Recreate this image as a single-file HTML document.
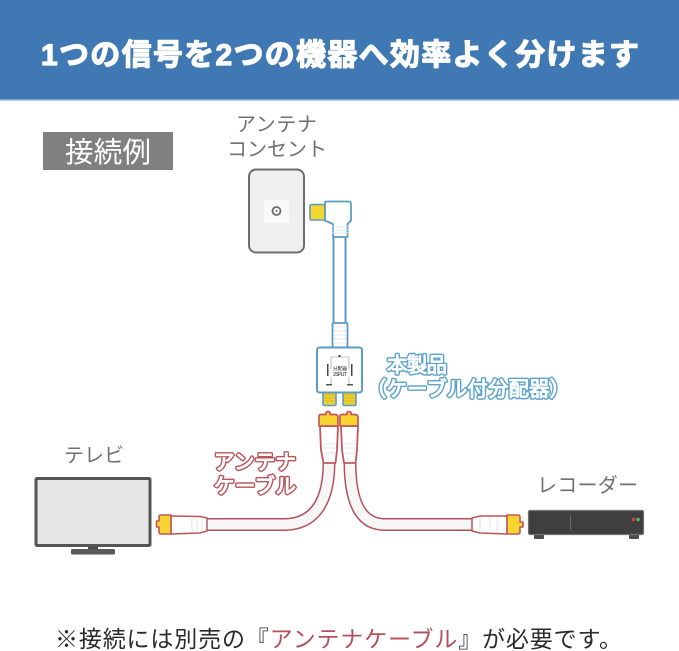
<!DOCTYPE html>
<html lang="ja">
<head>
<meta charset="utf-8">
<style>
html,body{margin:0;padding:0;background:#fff;width:679px;height:651px;overflow:hidden}
svg{display:block}
text{font-family:"Liberation Sans","Noto Sans CJK JP",sans-serif}
.lb{font-size:20px;fill:#707070}
.ol{font-size:20.5px;font-weight:400;stroke-linejoin:round}
.bo{fill:#5ba3cc;stroke:#5ba3cc;stroke-width:3.8px}
.ro{fill:#bb555c;stroke:#bb555c;stroke-width:3.8px}
.in{fill:#fff;stroke:#fff;stroke-width:1px}
</style>
</head>
<body>
<svg width="679" height="651" viewBox="0 0 679 651" xmlns="http://www.w3.org/2000/svg">
<rect width="679" height="651" fill="#fff"/>
<rect width="679" height="100" fill="#3f78b3"/>
<rect y="99" width="679" height="1.500" fill="#7ba3c9"/>
<text x="41" y="65" font-size="30" font-weight="700" fill="#fff" stroke="#fff" stroke-width="1.200" stroke-linejoin="round" textLength="598" lengthAdjust="spacing">1つの信号を2つの機器へ効率よく分けます</text>

<rect x="43" y="132" width="130" height="38" fill="#808080"/>
<text x="65" y="162" font-size="28.500" fill="#fff" textLength="86" lengthAdjust="spacing">接続例</text>

<text class="lb" x="236" y="131" textLength="81" lengthAdjust="spacing">アンテナ</text>
<text class="lb" x="227" y="156" textLength="100" lengthAdjust="spacing">コンセント</text>
<text class="lb" x="64" y="462" textLength="60" lengthAdjust="spacing">テレビ</text>
<text class="lb" x="537" y="492" textLength="101" lengthAdjust="spacing">レコーダー</text>

<!-- outlet -->
<rect x="249" y="169.500" width="55" height="83" rx="7" fill="#efefef" stroke="#6e6e6e" stroke-width="2"/>
<rect x="264" y="200" width="25" height="23" fill="#f9f9f9"/>
<circle cx="276.500" cy="211" r="4" fill="#f5f5f5" stroke="#6e6e6e" stroke-width="1.800"/>
<circle cx="276.500" cy="211" r="1" fill="#6e6e6e"/>

<!-- top cable -->
<rect x="333.500" y="236" width="12" height="90" fill="#fff" stroke="#5b9cc2" stroke-width="2"/>
<rect x="310" y="204.500" width="15" height="15.500" rx="1.500" fill="#f4d82f" stroke="#5b9cc2" stroke-width="1.600"/>
<path d="M325 202.500Q325 201.500 327 201.500H348.500Q351 201.500 351 204V220.500L347.500 224V237H333V224L326 221H325Z" fill="#fff" stroke="#5b9cc2" stroke-width="1.800" stroke-linejoin="round"/>
<path d="M332 227H348M332 230H348M332 233H348" stroke="#dfe7ec" stroke-width="1"/>

<!-- relief -->
<rect x="332.500" y="323" width="15" height="25" rx="1" fill="#fff" stroke="#5b9cc2" stroke-width="1.800"/>
<path d="M334 327H346M334 331H346M334 335H346M334 339H346M334 343H346" stroke="#e4e4e4" stroke-width="1"/>

<!-- splitter ports -->
<rect x="323" y="390" width="13" height="15.500" rx="1.500" fill="#f0d02c" stroke="#5b9cc2" stroke-width="1.600"/>
<rect x="343" y="390" width="13" height="15.500" rx="1.500" fill="#f0d02c" stroke="#5b9cc2" stroke-width="1.600"/>
<path d="M324 395H335M324 398H335M324 401H335M344 395H355M344 398H355M344 401H355" stroke="#d8b622" stroke-width="1"/>
<!-- splitter -->
<rect x="317" y="347.500" width="45" height="45" rx="2.500" fill="#fff" stroke="#5b9cc2" stroke-width="2"/>
<path d="M331 369V357H349V369M331 377V384M349 377V384" fill="none" stroke="#888" stroke-width=".6"/>
<rect x="338.500" y="355" width="2" height="2" fill="#333"/>
<rect x="327" y="364" width="1.500" height="12" fill="#444"/>
<rect x="351" y="364" width="1.500" height="12" fill="#444"/>
<rect x="326" y="384" width="6" height="1.500" fill="#555"/>
<rect x="347" y="384" width="6" height="1.500" fill="#555"/>
<text x="333" y="370" font-size="4.800" fill="#222" textLength="14" lengthAdjust="spacing">分配器</text>
<text x="333" y="376" font-size="5" fill="#222" textLength="14" lengthAdjust="spacing">2SPLIT</text>

<!-- antenna cables: red outline -->
<path d="M207 524.500H284C312 524.500 329 505 329 462" fill="none" stroke="#b2525a" stroke-width="13"/>
<path d="M207 524.500H284C312 524.500 329 505 329 462" fill="none" stroke="#f6f6f6" stroke-width="10"/>
<path d="M472 524.500H385C362 524.500 350 505 350 462" fill="none" stroke="#b2525a" stroke-width="13"/>
<path d="M472 524.500H385C362 524.500 350 505 350 462" fill="none" stroke="#f6f6f6" stroke-width="10"/>

<!-- vertical plugs -->
<path d="M320 426H338L337 450L335.500 463H323.500L321 450Z" fill="#fff" stroke="#c4565c" stroke-width="1.800" stroke-linejoin="round"/>
<path d="M341 426H358L357 450L355.500 463H344L342 450Z" fill="#fff" stroke="#c4565c" stroke-width="1.800" stroke-linejoin="round"/>
<path d="M323 444H335M323 448H335M323 453H335M345 444H355M345 448H355M345 453H355" stroke="#e6e6e6" stroke-width="1"/>
<path d="M319 416Q319 414.500 321 414.500H326V412.500Q328 410.500 330 412.500V414.500H335Q338 414.500 338 417V426H319Z" fill="#f6d530" stroke="#c4565c" stroke-width="1.700" stroke-linejoin="round"/>
<path d="M340 416Q340 414.500 342 414.500H347V412.500Q349 410.500 351 412.500V414.500H355Q358 414.500 358 417V426H340Z" fill="#f6d530" stroke="#c4565c" stroke-width="1.700" stroke-linejoin="round"/>

<!-- left plug -->
<path d="M171 516L200 516.500L207 518V531L200 533L171 534Z" fill="#fff" stroke="#bb555c" stroke-width="1.500" stroke-linejoin="round"/>
<path d="M192 518V532M197 518V532M202 519V531" stroke="#e3e3e3" stroke-width="1"/>
<path d="M171 515H161Q159 515 159 517V521H156.500V527H159V532Q159 534 161 534H171Z" fill="#f6d530" stroke="#c4565c" stroke-width="1.600" stroke-linejoin="round"/>

<!-- right plug -->
<path d="M507 516L480 516L472 518V531L480 533L507 534Z" fill="#fff" stroke="#bb555c" stroke-width="1.500" stroke-linejoin="round"/>
<path d="M480 517V532M490 517V533M497 517V533" stroke="#e3e3e3" stroke-width="1"/>
<path d="M507 515H518Q520 515 520 517V522H523V527H520V532Q520 534 518 534H507Z" fill="#f6d530" stroke="#c4565c" stroke-width="1.600" stroke-linejoin="round"/>

<!-- TV -->
<rect x="36" y="478.500" width="114" height="67" rx="1" fill="#e6e6e6" stroke="#555" stroke-width="3"/>
<rect x="88" y="547" width="10" height="5" fill="#4c4c4c"/>
<rect x="71" y="549" width="44" height="5.500" rx="1.500" fill="#5a5a5a"/>

<!-- recorder -->
<rect x="534" y="533" width="10" height="6" rx="1" fill="#4e4e4e"/>
<rect x="629" y="533" width="10" height="6" rx="1" fill="#4e4e4e"/>
<rect x="528.500" y="510.500" width="115" height="24" rx="1.500" fill="#3f3f3f" stroke="#707070" stroke-width="1.200"/>
<rect x="570" y="515" width=".8" height="15" fill="#777"/>
<circle cx="633.500" cy="519.500" r="1.800" fill="#c9464a"/>
<circle cx="638" cy="519.500" r="1.800" fill="#62b56a"/>

<!-- outlined labels -->
<text class="ol bo" x="387" y="372" textLength="60" lengthAdjust="spacing">本製品</text>
<text class="ol in" x="387" y="372" textLength="60" lengthAdjust="spacing">本製品</text>
<text class="ol bo" x="366" y="396" textLength="204" lengthAdjust="spacing">（ケーブル付分配器）</text>
<text class="ol in" x="366" y="396" textLength="204" lengthAdjust="spacing">（ケーブル付分配器）</text>
<text class="ol ro" x="214" y="469" textLength="82" lengthAdjust="spacing">アンテナ</text>
<text class="ol in" x="214" y="469" textLength="82" lengthAdjust="spacing">アンテナ</text>
<text class="ol ro" x="214" y="493" textLength="82" lengthAdjust="spacing">ケーブル</text>
<text class="ol in" x="214" y="493" textLength="82" lengthAdjust="spacing">ケーブル</text>

<text x="55" y="647" font-size="23" fill="#2a2a2a" textLength="567" lengthAdjust="spacing">※接続には別売の『<tspan fill="#b5515c">アンテナケーブル</tspan>』が必要です。</text>
</svg>
</body>
</html>
